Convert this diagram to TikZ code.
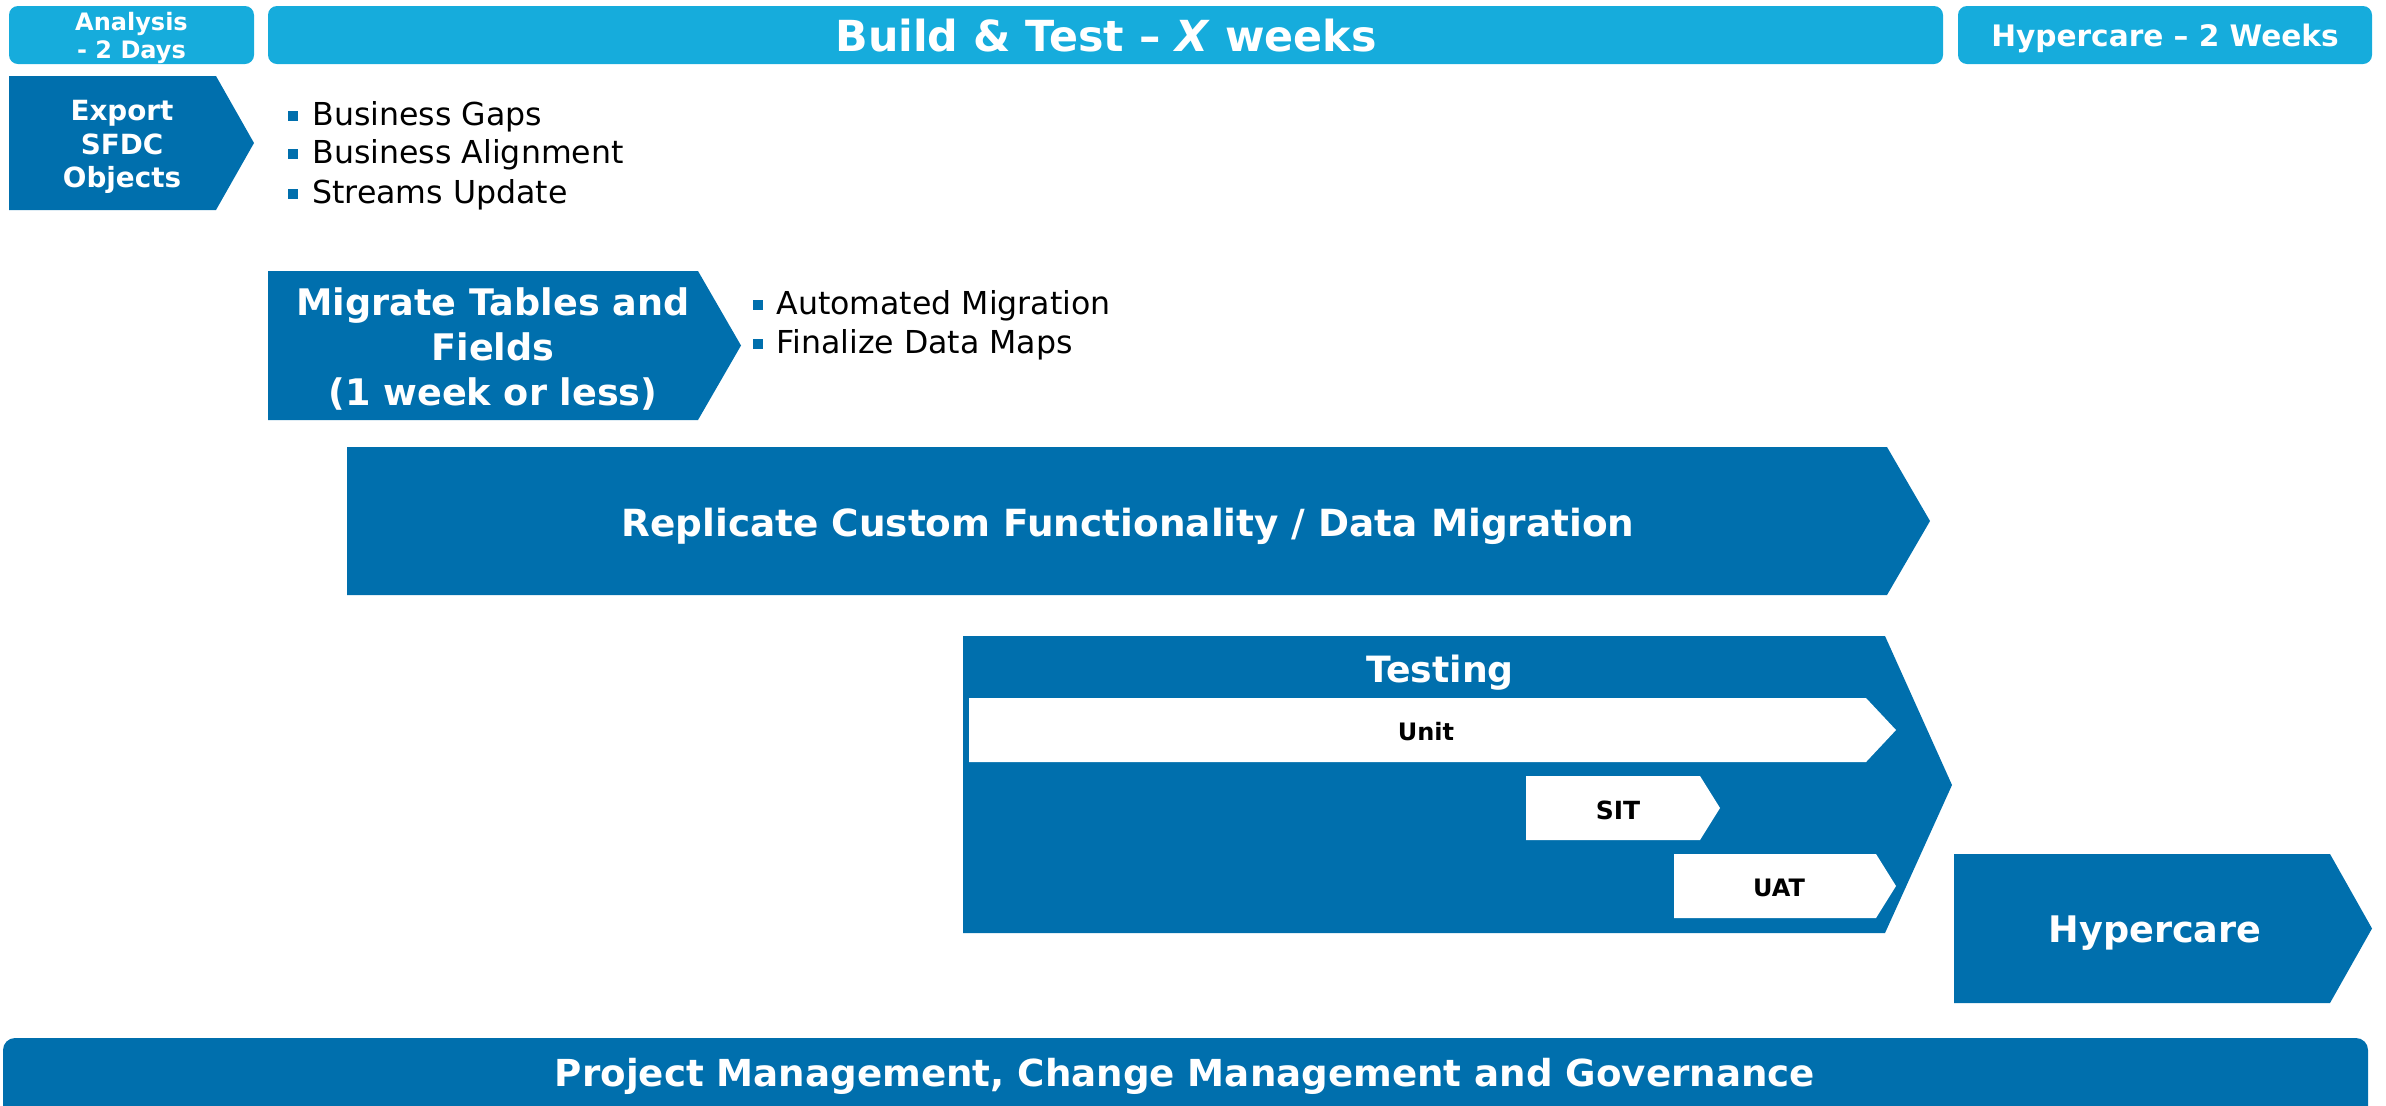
\documentclass[tikz,border=0pt]{standalone}
\usepackage{fontspec}
\setmainfont{DejaVu Sans}
\definecolor{hdrblue}{RGB}{22,172,220}
\definecolor{dkblue}{RGB}{0,111,173}
\tikzset{
  hdrbox/.style={fill=hdrblue, rounded corners=4.5pt},
  phasebox/.style={fill=dkblue},
  subbox/.style={fill=white},
  wlbl/.style={text=white, align=center, inner sep=0pt},
  klbl/.style={text=black, align=center, inner sep=0pt},
  bul/.style={text=black, anchor=west, inner sep=0pt, font=\fontsize{15.8}{18}\selectfont},
  bulsq/.style={fill=dkblue, minimum size=4.6pt, inner sep=0pt},
}
\newcommand{\fs}[2]{\fontsize{#1}{#2}\selectfont}
\begin{document}
\begin{tikzpicture}[x=0.5pt, y=-0.5pt]
\useasboundingbox (0,0) rectangle (2386,1105);

% header bars
\fill[hdrbox] (9,6) rectangle (254,64);
\fill[hdrbox] (268,6) rectangle (1943,64);
\fill[hdrbox] (1958,6) rectangle (2372,64);
\node[wlbl, font=\bfseries\fs{12}{14}] (ana) at (131.5,38) {Analysis\\- 2 Days};
\node[wlbl, font=\bfseries\fs{21.4}{24}] (bt) at (1106,36) {Build \& Test -- \textit{X} weeks};
\node[wlbl, font=\bfseries\fs{14.8}{17}] (hc) at (2165,38) {Hypercare -- 2 Weeks};

% export phase
\fill[phasebox] (9,76) -- (216,76) -- (254,143) -- (216,210) -- (9,210) -- cycle;
\node[wlbl, font=\bfseries\fs{13.9}{16.6}] (exp) at (122,147) {Export\\SFDC\\Objects};
\node[bulsq] (b1) at (293,116) {};
\node[bulsq] (b2) at (293,154) {};
\node[bulsq] (b3) at (293,194) {};
\node[bul] (t1) at (312,117) {Business Gaps};
\node[bul] (t2) at (312,155) {Business Alignment};
\node[bul] (t3) at (312,195) {Streams Update};

% migrate phase
\fill[phasebox] (268,271) -- (698,271) -- (741,345.5) -- (698,420) -- (268,420) -- cycle;
\node[wlbl, font=\bfseries\fs{18.3}{22.6}] (mig) at (493,349) {Migrate Tables and\\Fields\\(1 week or less)};
\node[bulsq] (b4) at (758,305) {};
\node[bulsq] (b5) at (758,344) {};
\node[bul] (t4) at (776,306) {Automated Migration};
\node[bul] (t5) at (776,345) {Finalize Data Maps};

% replicate phase
\fill[phasebox] (347,447) -- (1887,447) -- (1930,521) -- (1887,595) -- (347,595) -- cycle;
\node[wlbl, font=\bfseries\fs{18.7}{21}] (rep) at (1128,526) {Replicate Custom Functionality / Data Migration};

% testing phase
\fill[phasebox] (963,636) -- (1885,636) -- (1952,785) -- (1885,933) -- (963,933) -- cycle;
\node[wlbl, font=\bfseries\fs{18.1}{21}] (tst) at (1440,673) {Testing};
\fill[subbox] (969,698) -- (1866,698) -- (1896,730) -- (1866,762) -- (969,762) -- cycle;
\node[klbl, font=\bfseries\fs{12}{14}] (unit) at (1426,732) {Unit};
\fill[subbox] (1526,776) -- (1700,776) -- (1720,808) -- (1700,840) -- (1526,840) -- cycle;
\node[klbl, font=\bfseries\fs{12.5}{14}] (sit) at (1618,810) {SIT};
\fill[subbox] (1674,854) -- (1876,854) -- (1896,886) -- (1876,918) -- (1674,918) -- cycle;
\node[klbl, font=\bfseries\fs{12}{14}] (uat) at (1779,888) {UAT};

% hypercare phase
\fill[phasebox] (1954,854) -- (2330,854) -- (2372,928.5) -- (2330,1003) -- (1954,1003) -- cycle;
\node[wlbl, font=\bfseries\fs{18.3}{21}] (hyp) at (2155,933) {Hypercare};

% governance bar
\fill[dkblue, rounded corners=6pt] (3,1038) rectangle (2368,1140);
\node[wlbl, font=\bfseries\fs{18.6}{21}] (gov) at (1185,1076) {Project Management, Change Management and Governance};
\end{tikzpicture}
\end{document}
